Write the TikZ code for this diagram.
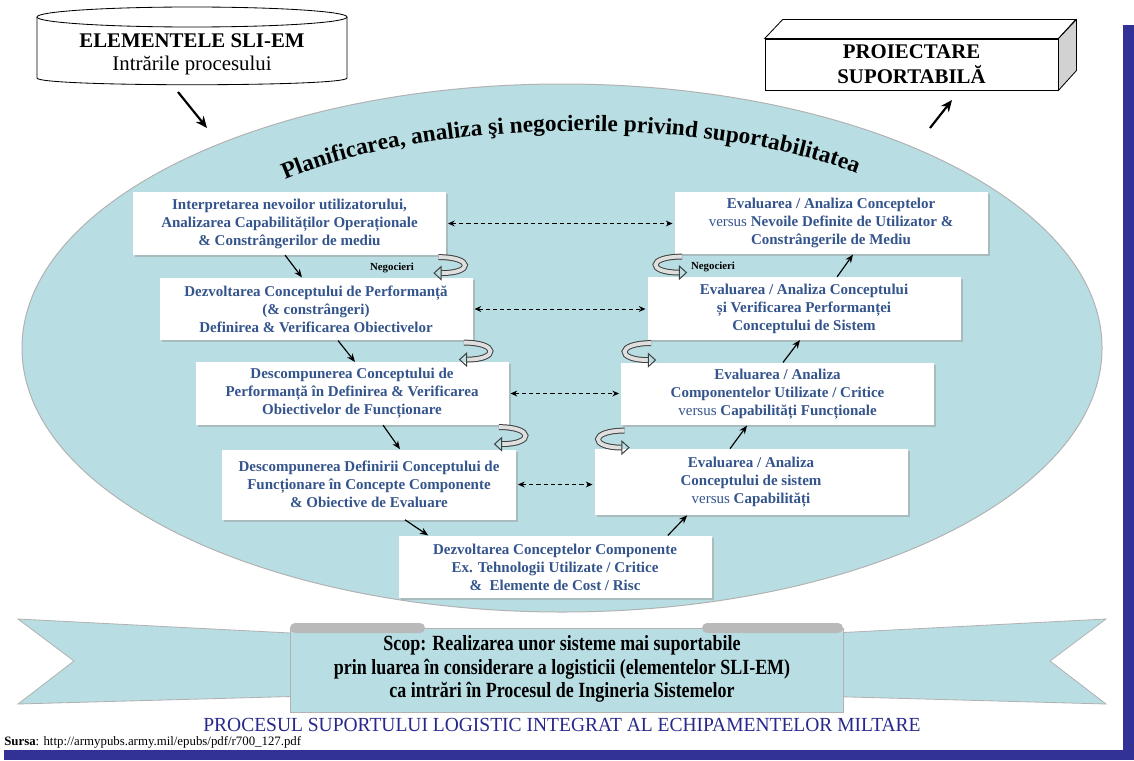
\documentclass[tikz,border=0pt]{standalone}
\usepackage{fontspec}
\setmainfont{Liberation Serif}
\usetikzlibrary{arrows.meta,shadows,decorations.text}

\definecolor{planteal}{RGB}{184,222,227}
\definecolor{boxblue}{RGB}{52,84,140}
\definecolor{frameblue}{RGB}{50,50,150}
\definecolor{captionblue}{RGB}{40,40,140}

\tikzset{
  procbox/.style={fill=white, align=center, text=boxblue, inner sep=1pt,
    font=\fontsize{9}{10.8}\selectfont\bfseries,
    minimum width=187.8pt, minimum height=37.5pt,
    drop shadow={shadow xshift=1.2pt, shadow yshift=-1.2pt, fill=gray!80, opacity=0.5}},
  flow/.style={-{Stealth[length=5pt,width=4pt]}, line width=0.7pt},
  talk/.style={{Stealth[length=4pt,width=3.5pt]}-{Stealth[length=4pt,width=3.5pt]},
    dash pattern=on 2.5pt off 1.8pt, line width=0.6pt, shorten <=1pt, shorten >=1pt},
  negarrow/.style={draw=gray!50!black, double=gray!25, double distance=2.3pt, line width=0.6pt,
    -{Triangle[open,length=5pt,width=9pt]}},
  neglabel/.style={font=\fontsize{6.5}{7}\selectfont\bfseries},
  bigarrow/.style={-{Stealth[length=7pt,width=6pt]}, line width=1.3pt},
  ribbon/.style={fill=planteal, draw=gray!60, line width=0.5pt}
}

\begin{document}
\begin{tikzpicture}[x=0.6pt, y=-0.6pt]
\useasboundingbox (0,0) rectangle (1134,760);

% frame
\fill[frameblue] (1123,25) rectangle (1134,760);
\fill[frameblue] (4,750) rectangle (1134,760);

% planning ellipse
\draw[fill=planteal, draw=gray!60, line width=0.6pt] (562,348) ellipse [x radius=540, y radius=264];
\path[decorate, decoration={text along path, text align=center,
  text={|\fontsize{14}{16}\selectfont\bfseries|Planificarea, analiza şi negocierile privind suportabilitatea}}]
  (260,192) .. controls (410,112) and (730,112) .. (882,184);

% inputs cylinder
\draw[fill=white, line width=0.5pt] (37,17) -- (37,78) .. controls (37,87) and (347,87) .. (347,78) -- (347,17);
\draw[fill=white, line width=0.5pt] (192,17) ellipse [x radius=155, y radius=10];
\node[align=center, font=\fontsize{12.5}{14}\selectfont] (inputs) at (192,54)
  {\textbf{ELEMENTELE SLI-EM}\\Intrările procesului};
\coordinate (inTail) at (178,92);
\coordinate (inTip) at (207,128);
\draw[bigarrow] (inTail) -- (inTip);

% design box
\node[draw, fill=white, line width=0.5pt, minimum width=175.8pt, minimum height=30.6pt,
  align=center, font=\fontsize{12.5}{15}\selectfont\bfseries] (design) at (911.5,64.5)
  {PROIECTARE\\SUPORTABILĂ};
\draw[fill=white, line width=0.5pt] (design.north west) -- ++(18,-19) -- ++(293,0) -- (design.north east) -- cycle;
\draw[fill=gray!35, line width=0.5pt] (design.north east) -- ++(18,-19) -- ++(0,51) -- (design.south east) -- cycle;
\coordinate (outTail) at (930,128);
\coordinate (outTip) at (952,100);
\draw[bigarrow] (outTail) -- (outTip);

% left branch
\node[procbox] (b1) at (289.5,223.5) {Interpretarea nevoilor utilizatorului,\\Analizarea Capabilităților Operaționale\\\& Constrângerilor de mediu};
\node[procbox] (b2) at (316,309) {Dezvoltarea Conceptului de Performanță\\(\& constrângeri)\\Definirea \& Verificarea Obiectivelor};
\node[procbox] (b3) at (352,393.5) {Descompunerea Conceptului de\\Performanță în Definirea \& Verificarea\\Obiectivelor de Funcționare};
\node[procbox, minimum width=176.4pt, minimum height=42pt] (b4) at (369,484.5) {Descompunerea Definirii Conceptului de\\Funcționare în Concepte Componente\\\& Obiective de Evaluare};
\node[procbox] (b5) at (555,567) {Dezvoltarea Conceptelor Componente\\Ex. Tehnologii Utilizate / Critice\\\& ~Elemente de Cost / Risc};

% right branch
\node[procbox] (r1) at (831,223) {Evaluarea / Analiza Conceptelor\\{\mdseries versus} Nevoile Definite de Utilizator \&\\Constrângerile de Mediu};
\node[procbox] (r2) at (804,308.5) {Evaluarea / Analiza Conceptului\\și Verificarea Performanței\\Conceptului de Sistem};
\node[procbox] (r3) at (777.5,394) {Evaluarea / Analiza\\Componentelor Utilizate / Critice\\{\mdseries versus} Capabilități Funcționale};
\node[procbox, minimum height=39.6pt] (r4) at (751,482) {Evaluarea / Analiza\\Conceptului de sistem\\{\mdseries versus} Capabilități};

% flow down and up
\draw[flow] ([shift={(-4.5,0)}]b1.south) -- ([shift={(-14,0)}]b2.north);
\draw[flow] ([shift={(22,0)}]b2.south) -- ([shift={(3,0)}]b3.north);
\draw[flow] ([shift={(31,0)}]b3.south) -- ([shift={(31,0)}]b4.north);
\draw[flow] ([shift={(36,0)}]b4.south) -- ([shift={(30,0)}]b5.north west);
\draw[flow] ([shift={(-44,0)}]b5.north east) -- ([shift={(93,0)}]r4.south west);
\draw[flow] ([shift={(-21,0)}]r4.north) -- ([shift={(-30.5,0)}]r3.south);
\draw[flow] ([shift={(5.5,0)}]r3.north) -- ([shift={(-4,0)}]r2.south);
\draw[flow] ([shift={(33,0)}]r2.north) -- ([shift={(22,0)}]r1.south);

% verification links
\draw[talk] (b1.east) -- (b1.east -| r1.west);
\draw[talk] (b2.east) -- (b2.east -| r2.west);
\draw[talk] (b3.east) -- (b3.east -| r3.west);
\draw[talk] (b4.east) -- (b4.east -| r4.west);

% negotiations
\node[neglabel] (neg1) at (392,268) {Negocieri};
\node[neglabel] (neg2) at (713,267) {Negocieri};
\draw[negarrow] ([shift={(-8,2)}]b1.south east) .. controls +(35,0) and +(40,0) .. ++(-5,16);
\draw[negarrow] ([shift={(-9,2)}]b2.south east) .. controls +(35,0) and +(40,0) .. ++(-5,17);
\draw[negarrow] ([shift={(-10,2)}]b3.south east) .. controls +(35,0) and +(40,0) .. ++(-5,17);
\draw[negarrow] ([shift={(8,2)}]r1.south west) .. controls +(-35,0) and +(-40,0) .. ++(5,16);
\draw[negarrow] ([shift={(4,3)}]r2.south west) .. controls +(-35,0) and +(-40,0) .. ++(5,17);
\draw[negarrow] ([shift={(4,5)}]r3.south west) .. controls +(-35,0) and +(-40,0) .. ++(5,17);

% goal ribbon
\draw[ribbon] (18,619) -- (310,634) -- (310,696) -- (18,704) -- (74,661) -- cycle;
\draw[ribbon] (1106,619) -- (814,634) -- (814,696) -- (1106,704) -- (1050,661) -- cycle;
\draw[ribbon] (290,628) rectangle (843,712);
\fill[gray!55, rounded corners=3pt] (290,623) rectangle (425,633);
\fill[gray!55, rounded corners=3pt] (702,623) rectangle (843,633);
\node[align=center, font=\fontsize{13}{14}\selectfont\bfseries] (goal) at (562,669)
  {\scalebox{0.83}[1]{Scop: Realizarea unor sisteme mai suportabile}\\
   \scalebox{0.83}[1]{prin luarea în considerare a logisticii (elementelor SLI-EM)}\\
   \scalebox{0.83}[1]{ca intrări în Procesul de Ingineria Sistemelor}};

% caption and source
\node[text=captionblue, font=\fontsize{12}{13}\selectfont] (caption) at (562,725)
  {\scalebox{0.975}[1]{PROCESUL SUPORTULUI LOGISTIC INTEGRAT AL ECHIPAMENTELOR MILTARE}};
\node[anchor=west, font=\fontsize{7.7}{8}\selectfont, inner sep=0pt] (source) at (4,742)
  {\textbf{Sursa}: http://armypubs.army.mil/epubs/pdf/r700\_127.pdf};
\end{tikzpicture}
\end{document}
